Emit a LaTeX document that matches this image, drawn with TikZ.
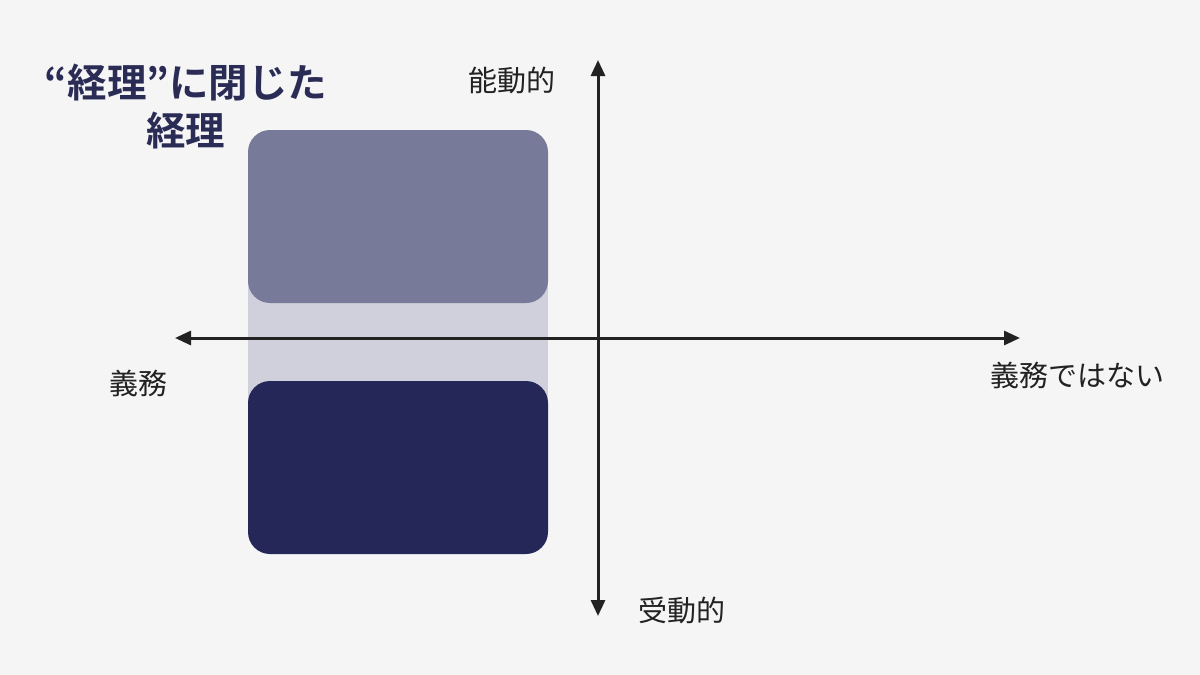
\documentclass[tikz,border=0pt]{standalone}
\usepackage{fontspec}
\setmainfont{Noto Sans CJK JP}
\newfontfamily\jpbold{Noto Sans CJK JP Bold}
\usetikzlibrary{arrows.meta, positioning}

\definecolor{bgcol}{HTML}{F5F5F6}
\definecolor{navy}{HTML}{252759}
\definecolor{slate}{HTML}{787A9A}
\definecolor{haze}{HTML}{D0D0DC}
\definecolor{axiscol}{HTML}{222222}
\definecolor{titlecol}{HTML}{2A2C55}

\begin{document}
\begin{tikzpicture}[x=1pt, y=-1pt]
		\tikzset{box/.style={rectangle, rounded corners=22pt, minimum width=300pt, minimum height=173pt, inner sep=0pt}}
		\tikzset{axis/.style={<->, line width=3pt, draw=axiscol, >={Triangle[length=16pt, width=14pt]}}}
		\tikzset{axlabel/.style={font=\fontsize{29pt}{33pt}\selectfont, text=axiscol, inner sep=0pt}}

		\fill[bgcol] (0,0) rectangle (1200,675);
		\useasboundingbox (0,0) rectangle (1200,675);

		% column behind the two boxes
		\node[rectangle, fill=haze, minimum width=300pt, minimum height=260pt, inner sep=0pt] (column) at (398,342) {};
		\node[box, fill=slate] (upper) at (398,216.5) {};
		\node[box, fill=navy] (lower) at (398,467.5) {};

		\coordinate (west) at (175,338);
		\coordinate (east) at (1020,338);
		\coordinate (north) at (598,60);
		\coordinate (south) at (598,616);

		\draw[axis] (west) -- (east);
		\draw[axis] (north) -- (south);

		\node[axlabel] (active) at (512,80) {能動的};
		\node[axlabel] (passive) at (682,610) {受動的};
		\node[axlabel] (duty) at (138,383) {義務};
		\node[axlabel] (noduty) at (1077,375) {義務ではない};

		\node[font=\jpbold\fontsize{39.5pt}{48pt}\selectfont, text=titlecol, align=center, inner sep=0pt] (title) at (186,107) {“経理”に閉じた\\経理};

	\end{tikzpicture}
\end{document}
